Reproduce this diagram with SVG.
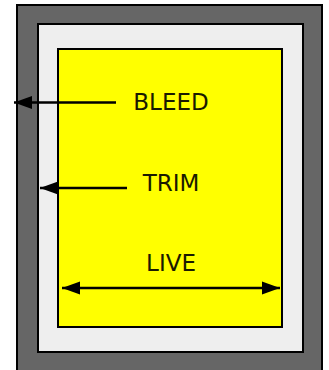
<svg xmlns="http://www.w3.org/2000/svg" width="329" height="370" viewBox="0 0 329 370">
  <style>
    .frame { stroke: #000; stroke-width: 2; }
    .lbl { font-family: "DejaVu Sans", Verdana, sans-serif; font-size: 23px; fill: #1a1a00; text-anchor: middle; }
    .arr { stroke: #000; stroke-width: 2.5; fill: none; }
  </style>
  <defs>
    <marker id="ah" markerUnits="userSpaceOnUse" markerWidth="20" markerHeight="14" refX="18" refY="7" orient="auto-start-reverse" viewBox="0 0 20 14">
      <path d="M0,0.5 L18,7 L0,13.5 Z" fill="#000"/>
    </marker>
  </defs>
  <rect width="329" height="370" fill="#fff"/>
  <g id="bleed-area">
    <rect class="frame" x="17" y="5" width="305" height="370" fill="#666"/>
  </g>
  <g id="trim-area">
    <rect class="frame" x="38" y="24" width="265" height="328" fill="#eee"/>
  </g>
  <g id="live-area">
    <rect class="frame" x="58" y="49" width="224" height="278" fill="#ffff00"/>
  </g>
  <g id="connectors">
    <line class="arr" x1="116" y1="102.5" x2="14" y2="102.5" marker-end="url(#ah)"/>
    <line class="arr" x1="127" y1="188" x2="40" y2="188" marker-end="url(#ah)"/>
    <line class="arr" x1="62" y1="288" x2="280" y2="288" marker-start="url(#ah)" marker-end="url(#ah)"/>
  </g>
  <g id="labels">
    <text class="lbl" x="171" y="109.5">BLEED</text>
    <text class="lbl" x="171" y="190.5">TRIM</text>
    <text class="lbl" x="171" y="270.5">LIVE</text>
  </g>
</svg>
